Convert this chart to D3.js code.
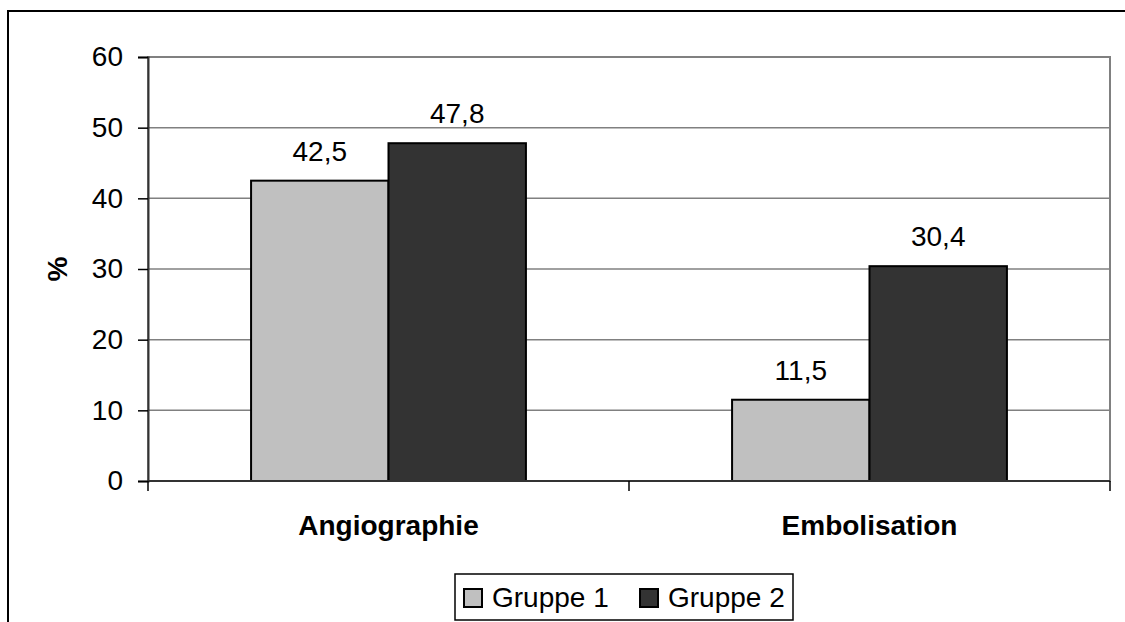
<!DOCTYPE html>
<html>
<head>
<meta charset="utf-8">
<script src="https://cdn.jsdelivr.net/npm/d3@7/dist/d3.min.js"></script>
<style>
  html, body { margin: 0; padding: 0; background: #fff; }
  svg { display: block; font-family: Arial, "Liberation Sans", sans-serif; }
</style>
</head>
<body>
<svg id="chart" width="1125" height="622"></svg>
<script>
// Chart data
const categories = ["Angiographie", "Embolisation"];
const seriesNames = ["Gruppe 1", "Gruppe 2"];
const gruppe1 = [42.5, 11.5];
const gruppe2 = [47.8, 30.4];
const yTicks = [0, 10, 20, 30, 40, 50, 60];
const seriesColors = ["#C0C0C0", "#333333"];

const values = [gruppe1, gruppe2];
const svg = d3.select("#chart");

// Outer chart frame (runs off the right and bottom edges)
svg.append("rect")
  .attr("x", 8).attr("y", 11)
  .attr("width", 1300).attr("height", 1000)
  .attr("fill", "#fff").attr("stroke", "#000").attr("stroke-width", 2);

const plot = { left: 148, right: 1110, top: 57, bottom: 481 };

const y = d3.scaleLinear().domain([0, 60]).range([plot.bottom, plot.top]);
const x0 = d3.scaleBand().domain(categories).range([plot.left, plot.right]).padding(0);
// gap width 150% of a bar: two bars take 2 / 3.5 of each band
const groupW = x0.bandwidth() * 2 / 3.5;
const x1 = d3.scaleBand().domain(seriesNames).range([0, groupW]).padding(0);

// Plot area border
svg.append("rect")
  .attr("x", plot.left).attr("y", plot.top)
  .attr("width", plot.right - plot.left).attr("height", plot.bottom - plot.top)
  .attr("fill", "none").attr("stroke", "#808080").attr("stroke-width", 2);

// Gridlines
svg.append("g").selectAll("line")
  .data(yTicks.filter(t => t > 0 && t < 60))
  .join("line")
  .attr("x1", plot.left).attr("x2", plot.right)
  .attr("y1", d => y(d)).attr("y2", d => y(d))
  .attr("stroke", "#808080").attr("stroke-width", 1.5);

// Bars
const groups = svg.append("g").selectAll("g")
  .data(categories)
  .join("g")
  .attr("transform", c => `translate(${x0(c) + (x0.bandwidth() - groupW) / 2},0)`);

const fmt = v => d3.format(".1f")(v).replace(".", ",");

seriesNames.forEach((s, si) => {
  groups.append("rect")
    .attr("x", x1(s))
    .attr("y", (c, ci) => y(values[si][ci]))
    .attr("width", x1.bandwidth())
    .attr("height", (c, ci) => y(0) - y(values[si][ci]))
    .attr("fill", seriesColors[si])
    .attr("stroke", "#000").attr("stroke-width", 2);
  groups.append("text")
    .attr("x", x1(s) + x1.bandwidth() / 2)
    .attr("y", (c, ci) => y(values[si][ci]) - 20)
    .attr("text-anchor", "middle")
    .attr("font-size", 28)
    .attr("fill", "#000")
    .text((c, ci) => fmt(values[si][ci]));
});

// Y axis
const yAxis = svg.append("g")
  .attr("transform", `translate(${plot.left},0)`)
  .call(d3.axisLeft(y).tickValues(yTicks).tickSize(10).tickPadding(15).tickFormat(d3.format("d")));
yAxis.select(".domain").attr("stroke", "#333").attr("stroke-width", 2);
yAxis.selectAll(".tick line").attr("stroke", "#000").attr("stroke-width", 1.5);
yAxis.selectAll(".tick text").attr("font-size", 28).attr("fill", "#000")
  .attr("font-family", "Arial, 'Liberation Sans', sans-serif");

// X axis: ticks at band boundaries, labels centred in bands
const xAxis = svg.append("g").attr("transform", `translate(0,${plot.bottom})`);
xAxis.append("line")
  .attr("x1", plot.left).attr("x2", plot.right)
  .attr("stroke", "#333").attr("stroke-width", 2);
const bounds = categories.map(c => x0(c)).concat([x0(categories[categories.length - 1]) + x0.bandwidth()]);
xAxis.selectAll("line.tk")
  .data(bounds)
  .join("line").attr("class", "tk")
  .attr("x1", d => d).attr("x2", d => d)
  .attr("y1", 0).attr("y2", 10)
  .attr("stroke", "#000").attr("stroke-width", 1.5);
xAxis.selectAll("text")
  .data(categories)
  .join("text")
  .attr("x", c => x0(c) + x0.bandwidth() / 2)
  .attr("y", 54)
  .attr("text-anchor", "middle")
  .attr("font-size", 28).attr("font-weight", "bold")
  .text(c => c);

// Y axis title
svg.append("text")
  .attr("transform", `translate(67,${(plot.top + plot.bottom) / 2}) rotate(-90)`)
  .attr("text-anchor", "middle")
  .attr("font-size", 28).attr("font-weight", "bold")
  .text("%");

// Legend
const legend = svg.append("g");
legend.append("rect")
  .attr("x", 455).attr("y", 574).attr("width", 338).attr("height", 46)
  .attr("fill", "#fff").attr("stroke", "#000").attr("stroke-width", 1.5);
const legendX = [464, 640];
seriesNames.forEach((s, i) => {
  legend.append("rect")
    .attr("x", legendX[i]).attr("y", 589).attr("width", 18).attr("height", 18)
    .attr("fill", seriesColors[i]).attr("stroke", "#000").attr("stroke-width", 2);
  legend.append("text")
    .attr("x", legendX[i] + 28).attr("y", 607)
    .attr("font-size", 28)
    .text(s);
});
</script>
</body>
</html>
